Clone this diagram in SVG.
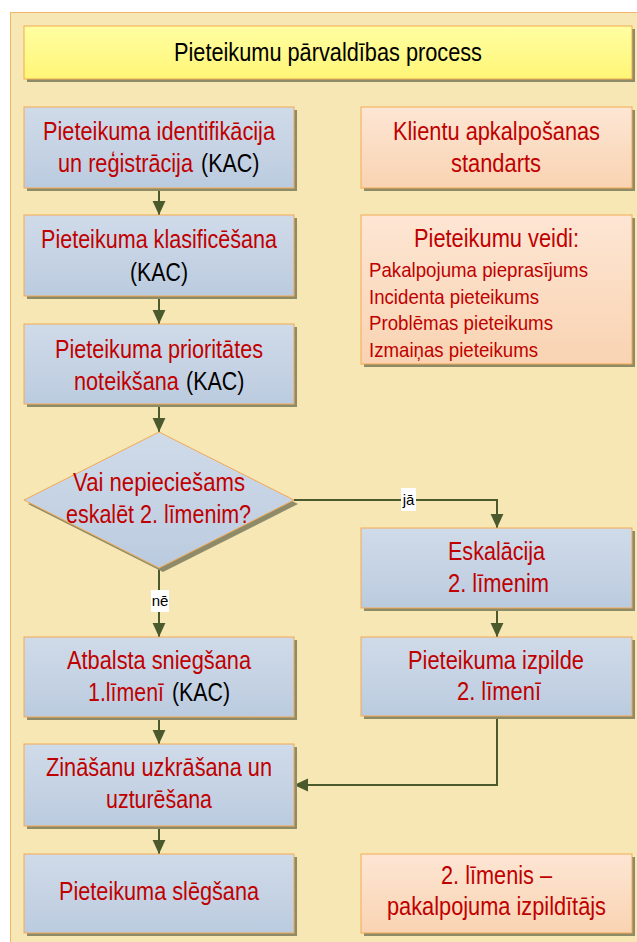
<svg xmlns="http://www.w3.org/2000/svg" width="637" height="942" viewBox="0 0 637 942">
  <defs>
    <linearGradient id="gBlue" x1="0" y1="0" x2="0" y2="1">
      <stop offset="0" stop-color="#D0DBE9"/>
      <stop offset="1" stop-color="#BBCBDF"/>
    </linearGradient>
    <linearGradient id="gPeach" x1="0" y1="0" x2="0" y2="1">
      <stop offset="0" stop-color="#FDE6D4"/>
      <stop offset="1" stop-color="#F9D3B2"/>
    </linearGradient>
    <linearGradient id="gYellow" x1="0" y1="0" x2="0" y2="1">
      <stop offset="0" stop-color="#FFFFA2"/>
      <stop offset="1" stop-color="#FFF576"/>
    </linearGradient>
    <marker id="arrow" markerUnits="userSpaceOnUse" markerWidth="14" markerHeight="14" viewBox="0 0 12 12" refX="12" refY="6" orient="auto">
      <path d="M0,0.5 L12,6 L0,11.5 Z" fill="#4A5A2C"/>
    </marker>
  </defs>
  <style>
    .shadow { fill: #8E8B69; }
    .box { stroke: #F3A952; stroke-width: 1; }
    .blue { fill: url(#gBlue); }
    .peach { fill: url(#gPeach); }
    .t { font-family: "Liberation Sans", Arial, sans-serif; font-size: 25px; text-anchor: middle; fill: #C00000; }
    .l { text-anchor: start; }
    .s { font-family: "Liberation Sans", Arial, sans-serif; font-size: 21px; fill: #C00000; }
    .k { fill: #000000; }
    .edge { fill: none; stroke: #4A5A2C; stroke-width: 2; }
    .lbl { font-family: "Liberation Sans", Arial, sans-serif; font-size: 15px; text-anchor: middle; fill: #000000; }
  </style>

  <!-- page background -->
  <rect x="10.5" y="12.5" width="640" height="940" fill="#F6E7B5" stroke="#F4B469" stroke-width="1"/>

  <!-- title bar -->
  <g id="title">
    <rect class="shadow" x="27" y="29" width="608" height="53"/>
    <rect class="box" x="24" y="26" width="608" height="53" fill="url(#gYellow)"/>
    <text class="t k" x="328" y="61" textLength="308" lengthAdjust="spacingAndGlyphs">Pieteikumu pārvaldības process</text>
  </g>

  <!-- connectors -->
  <g id="connectors">
    <path class="edge" d="M159,188 V215" marker-end="url(#arrow)"/>
    <path class="edge" d="M159,296 V324" marker-end="url(#arrow)"/>
    <path class="edge" d="M159,404 V432" marker-end="url(#arrow)"/>
    <path class="edge" d="M159,568 V637" marker-end="url(#arrow)"/>
    <path class="edge" d="M159,716 V744" marker-end="url(#arrow)"/>
    <path class="edge" d="M159,826 V854" marker-end="url(#arrow)"/>
    <path class="edge" d="M294,500 H497 V528" marker-end="url(#arrow)"/>
    <path class="edge" d="M497,608 V637" marker-end="url(#arrow)"/>
    <path class="edge" d="M497,716 V785 H294" marker-end="url(#arrow)"/>
    <rect x="401" y="488" width="15" height="23" fill="#FFFFFF"/>
    <text class="lbl" x="408.5" y="505">jā</text>
    <rect x="151" y="590" width="18" height="22" fill="#FFFFFF"/>
    <text class="lbl" x="160" y="606">nē</text>
  </g>

  <!-- left column -->
  <g id="identifikacija">
    <rect class="shadow" x="27" y="110" width="270" height="81"/>
    <rect class="box blue" x="24" y="107" width="270" height="81"/>
    <text class="t" x="159" y="140" textLength="232" lengthAdjust="spacingAndGlyphs">Pieteikuma identifikācija</text>
    <text class="t l" transform="translate(58,172) scale(0.868,1)">un reģistrācija</text>
    <text class="t l k" transform="translate(201,172) scale(0.86,1)">(KAC)</text>
  </g>

  <g id="klasificesana">
    <rect class="shadow" x="27" y="218" width="270" height="81"/>
    <rect class="box blue" x="24" y="215" width="270" height="81"/>
    <text class="t" x="159" y="248" textLength="236" lengthAdjust="spacingAndGlyphs">Pieteikuma klasificēšana</text>
    <text class="t k" x="159" y="281" textLength="58" lengthAdjust="spacingAndGlyphs">(KAC)</text>
  </g>

  <g id="prioritate">
    <rect class="shadow" x="27" y="327" width="270" height="80"/>
    <rect class="box blue" x="24" y="324" width="270" height="80"/>
    <text class="t" x="159" y="357.5" textLength="208" lengthAdjust="spacingAndGlyphs">Pieteikuma prioritātes</text>
    <text class="t l" transform="translate(74,389.5) scale(0.868,1)">noteikšana</text>
    <text class="t l k" transform="translate(186,389.5) scale(0.86,1)">(KAC)</text>
  </g>

  <g id="lemums">
    <polygon class="shadow" points="163,436 298,504 163,572 28,504"/>
    <polygon class="box blue" points="159,432 294,500 159,568 24,500"/>
    <text class="t" x="159" y="491" textLength="172" lengthAdjust="spacingAndGlyphs">Vai nepieciešams</text>
    <text class="t" x="158.5" y="523" textLength="185" lengthAdjust="spacingAndGlyphs">eskalēt 2. līmenim?</text>
  </g>

  <g id="atbalsts">
    <rect class="shadow" x="27" y="640" width="270" height="80"/>
    <rect class="box blue" x="24" y="637" width="270" height="80"/>
    <text class="t" x="159" y="669" textLength="184" lengthAdjust="spacingAndGlyphs">Atbalsta sniegšana</text>
    <text class="t l" x="88" y="701" textLength="76" lengthAdjust="spacingAndGlyphs">1.līmenī</text>
    <text class="t l k" x="172" y="701" textLength="58" lengthAdjust="spacingAndGlyphs">(KAC)</text>
  </g>

  <g id="zinasanas">
    <rect class="shadow" x="27" y="747" width="270" height="82"/>
    <rect class="box blue" x="24" y="744" width="270" height="82"/>
    <text class="t" x="159" y="776" textLength="226" lengthAdjust="spacingAndGlyphs">Zināšanu uzkrāšana un</text>
    <text class="t" x="159" y="808" textLength="106" lengthAdjust="spacingAndGlyphs">uzturēšana</text>
  </g>

  <g id="slegsana">
    <rect class="shadow" x="27" y="857" width="270" height="79"/>
    <rect class="box blue" x="24" y="854" width="270" height="79"/>
    <text class="t" x="159" y="900" textLength="200" lengthAdjust="spacingAndGlyphs">Pieteikuma slēgšana</text>
  </g>

  <!-- right column -->
  <g id="standarts">
    <rect class="shadow" x="364" y="110" width="271" height="81"/>
    <rect class="box peach" x="361" y="107" width="271" height="81"/>
    <text class="t" x="496.5" y="139.5" textLength="207" lengthAdjust="spacingAndGlyphs">Klientu apkalpošanas</text>
    <text class="t" x="496" y="171.5" textLength="90" lengthAdjust="spacingAndGlyphs">standarts</text>
  </g>

  <g id="veidi">
    <rect class="shadow" x="364" y="218" width="271" height="149"/>
    <rect class="box peach" x="361" y="215" width="271" height="149"/>
    <text class="t" x="496.5" y="247" textLength="165" lengthAdjust="spacingAndGlyphs">Pieteikumu veidi:</text>
    <text class="s" x="369" y="276.5" textLength="219" lengthAdjust="spacingAndGlyphs">Pakalpojuma pieprasījums</text>
    <text class="s" x="369" y="303.5" textLength="170" lengthAdjust="spacingAndGlyphs">Incidenta pieteikums</text>
    <text class="s" x="369" y="330" textLength="184" lengthAdjust="spacingAndGlyphs">Problēmas pieteikums</text>
    <text class="s" x="369" y="356.5" textLength="169" lengthAdjust="spacingAndGlyphs">Izmaiņas pieteikums</text>
  </g>

  <g id="eskalacija">
    <rect class="shadow" x="364" y="531" width="271" height="80"/>
    <rect class="box blue" x="361" y="528" width="271" height="80"/>
    <text class="t" x="496.5" y="560" textLength="97" lengthAdjust="spacingAndGlyphs">Eskalācija</text>
    <text class="t" x="498.5" y="591.5" textLength="101" lengthAdjust="spacingAndGlyphs">2. līmenim</text>
  </g>

  <g id="izpilde">
    <rect class="shadow" x="364" y="640" width="271" height="79"/>
    <rect class="box blue" x="361" y="637" width="271" height="79"/>
    <text class="t" x="496" y="668.5" textLength="176" lengthAdjust="spacingAndGlyphs">Pieteikuma izpilde</text>
    <text class="t" x="499" y="700" textLength="84" lengthAdjust="spacingAndGlyphs">2. līmenī</text>
  </g>

  <g id="limenis2">
    <rect class="shadow" x="364" y="857" width="271" height="79"/>
    <rect class="box peach" x="361" y="854" width="271" height="79"/>
    <text class="t" x="496.5" y="883.5" textLength="111" lengthAdjust="spacingAndGlyphs">2. līmenis –</text>
    <text class="t" x="496.5" y="915" textLength="219" lengthAdjust="spacingAndGlyphs">pakalpojuma izpildītājs</text>
  </g>
</svg>
